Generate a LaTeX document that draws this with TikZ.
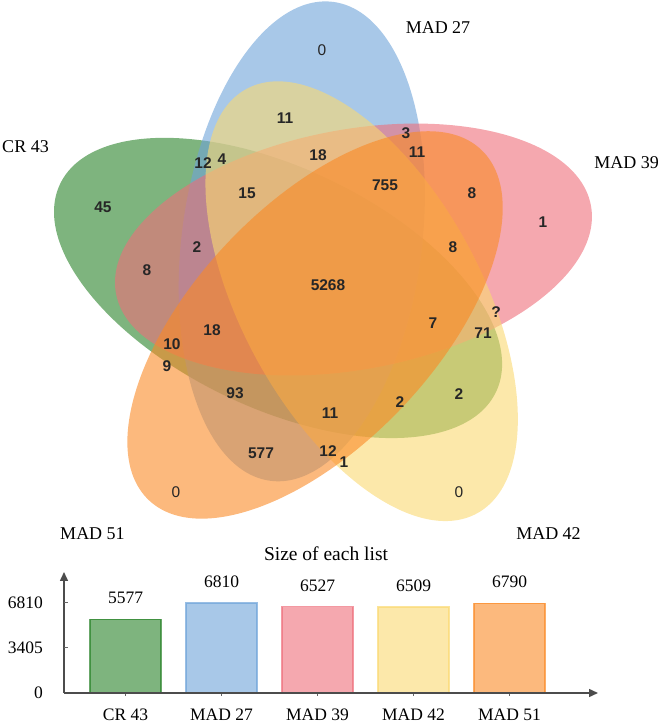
\documentclass[tikz,border=0pt]{standalone}
\usepackage{fontspec}
\setmainfont{Liberation Serif}
\newfontfamily\arialfont{Liberation Sans}
\usetikzlibrary{arrows.meta,positioning}

\definecolor{cgreen}{RGB}{40,130,40}
\definecolor{cblue}{RGB}{110,163,217}
\definecolor{cred}{RGB}{238,110,122}
\definecolor{cyellow}{RGB}{250,217,113}
\definecolor{corange}{RGB}{250,138,38}

\begin{document}
\begin{tikzpicture}[
  x=1pt, y=1pt,
  setlab/.style={font=\fontsize{18}{18}\selectfont, inner sep=0pt},
  barlab/.style={font=\fontsize{17.5}{18}\selectfont, inner sep=0pt},
  num/.style={font=\fontsize{15.5}{15.5}\selectfont\arialfont\bfseries, text=black!85, inner sep=0pt},
  zero/.style={font=\fontsize{15.5}{15.5}\selectfont\arialfont, text=black!85, inner sep=0pt},
  bar/.style={fill=#1, fill opacity=0.6, draw=#1, draw opacity=0.7, line width=1.5pt},
  axis/.style={-{Triangle[length=9pt,width=8pt]}, draw=black!70, line width=1.5pt}
]
\useasboundingbox (0,0) rectangle (662,725);

% five ellipses, turned by 72 degrees each
\foreach \col [count=\k from 0] in {cgreen,cblue,cred,cyellow,corange}
  \fill[\col, fill opacity=0.6, shift={(322,444)}, rotate={189-72*\k},
        shift={(44.5,0)}, rotate=-34.5] (0,0) ellipse [x radius=241.5, y radius=120];

% set names
\node[setlab] (cr43) at (25.5,578) {CR 43};
\node[setlab] (mad27) at (438,697) {MAD 27};
\node[setlab] (mad39) at (626.5,562) {MAD 39};
\node[setlab] (mad51) at (92.5,191) {MAD 51};
\node[setlab] (mad42) at (548.5,191) {MAD 42};

% region counts
\foreach \x/\y/\t [count=\i] in {285/607/11, 318/570/18, 406/592/3, 417/573/11,
    385/540/755, 203/562/12, 222/566/4, 247/532/15, 103/518/45, 472/532/8,
    543/503/1, 197/478/2, 453/478/8, 147/455/8, 328/440/5268, 433/402/7,
    496/413/?, 483/392/71, 212/395/18, 172/381/10, 167/359/9, 235/332/93,
    330/312/11, 400/323/2, 459/331/2, 261/272/577, 328/274/12, 344/263/1}
  \node[num] (r\i) at (\x,\y) {\t};
\node[zero] (z27) at (322,675) {0};
\node[zero] (z51) at (176,233) {0};
\node[zero] (z42) at (459,233) {0};

% size of each list
\node[font=\fontsize{19.5}{20}\selectfont, inner sep=0pt] (title) at (326,171) {Size of each list};
\coordinate (o) at (64,32);
\coordinate (ytip) at (64,153);
\coordinate (xtip) at (598,32);
\foreach \v/\lab/\col [count=\k from 0] in {5577/CR 43/cgreen, 6810/MAD 27/cblue,
    6527/MAD 39/cred, 6509/MAD 42/cyellow, 6790/MAD 51/corange} {
  \draw[bar=\col] ({90+96*\k},32) rectangle ++(71,{\v/6810*90});
  \draw[black!60, line width=1pt] ({125.5+96*\k},32) -- ++(0,-3);
  \node[barlab] (val\k) at ({125.5+96*\k},{53+\v/6810*90}) {\v};
  \node[barlab] (cat\k) at ({125.5+96*\k},10) {\lab};
}
\draw[axis] (o) -- (ytip);
\draw[axis] (o) -- (xtip);
\draw[black!60, line width=1pt] (64,122) -- ++(4,0) (64,77) -- ++(4,0);
\node[barlab, anchor=east] (t6810) at (43,122) {6810};
\node[barlab, anchor=east] (t3405) at (43,77) {3405};
\node[barlab, anchor=east] (t0) at (43,32) {0};
\end{tikzpicture}
\end{document}
